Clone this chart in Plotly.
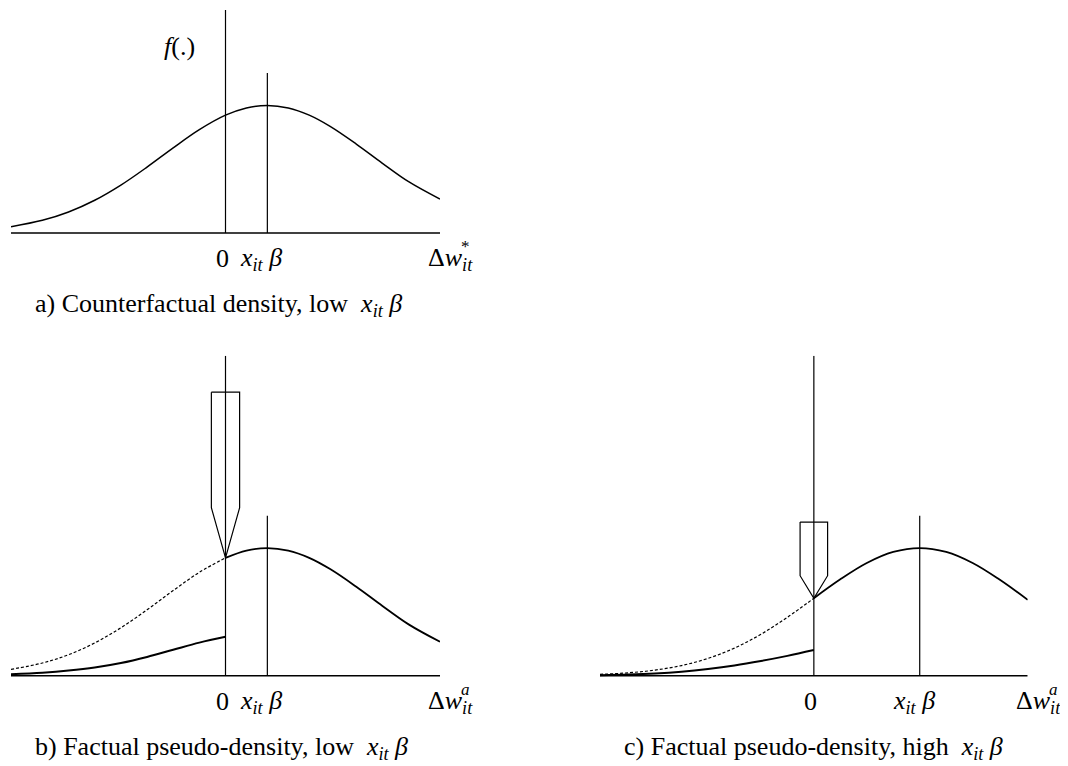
import plotly.graph_objects as go

# ---- data ----
# panels a) and b): low x_it*beta
x_low = [-2.05, -1.75, -1.5, -1.25, -1.0, -0.75, -0.5, -0.25, 0.0,
         0.2, 0.4, 0.6, 0.8, 1.0, 1.25, 1.5, 1.75, 2.05]
density_low = [0.0198, 0.0396, 0.0656, 0.1023, 0.1497, 0.2059, 0.2661, 0.3230, 0.3683,
               0.3910, 0.3989, 0.3910, 0.3683, 0.3332, 0.2780, 0.2179, 0.1604, 0.1060]
x_trunc_low = [-2.05, -1.75, -1.5, -1.25, -1.0, -0.75, -0.5, -0.25, 0.0]
pseudo_low = [0.0048, 0.0095, 0.0161, 0.0256, 0.0397, 0.0587, 0.0812, 0.1034, 0.1215]
xbeta_low = 0.4

# panel c): high x_it*beta
x_high = [-2.02, -1.75, -1.5, -1.25, -1.0, -0.75, -0.5, -0.25, 0.0,
          0.25, 0.5, 0.75, 1.0, 1.25, 1.5, 1.75, 2.02]
density_high = [0.0042, 0.0091, 0.0175, 0.0317, 0.0540, 0.0863, 0.1295, 0.1826, 0.2420,
                0.3011, 0.3521, 0.3867, 0.3989, 0.3867, 0.3521, 0.3011, 0.2371]
x_trunc_high = [-2.02, -1.75, -1.5, -1.25, -1.0, -0.75, -0.5, -0.25, 0.0]
pseudo_high = [0.0015, 0.0035, 0.0068, 0.0125, 0.0210, 0.0320, 0.0460, 0.0620, 0.0800]
xbeta_high = 1.0

FONT = "Liberation Serif, Times New Roman, serif"
SIZE = 26
XB = "<i>x</i><sub><i>it</i></sub> <i>β</i>"
BLACK = "black"

# the page body has an 8px margin, so the figure is drawn 8px in from the corner
PAD = 8
W, H = 1068 - PAD, 766 - PAD

fig = go.Figure()


def px_x(a, b):
    return [(a - PAD) / W, (b - PAD) / W]


def px_y(bottom, top):
    return [1 - (bottom - PAD) / H, 1 - (top - PAD) / H]


def line(xs, ys, ax, width=1.5, dash="solid", shape="linear"):
    fig.add_trace(go.Scatter(
        x=xs, y=ys, mode="lines", xaxis="x" + ax, yaxis="y" + ax,
        line=dict(color=BLACK, width=width, dash=dash, shape=shape),
        hoverinfo="skip", showlegend=False
    ))


def text(ax, x, y, s, size=SIZE, xanchor="center", xshift=0, yshift=0):
    fig.add_annotation(
        x=x, y=y, xref="x" + ax, yref="y" + ax, text=s, showarrow=False,
        xanchor=xanchor, yanchor="middle", xshift=xshift, yshift=yshift,
        font=dict(family=FONT, size=size, color=BLACK)
    )


def panel(ax, xs, dens, xt, pseudo, xbeta, zero_top, star, caption, arrow=None):
    """One density sketch: axis, vertical lines, curve(s), labels."""
    line([xs[0], xs[-1]], [0, 0], ax, width=1.6)
    line([0, 0], [0, zero_top], ax, width=1.2)
    line([xbeta, xbeta], [0, 0.5], ax, width=1.2)
    i0 = xs.index(0.0)
    if pseudo is None:
        line(xs, dens, ax, shape="spline")
    else:
        line(xs[:i0 + 1], dens[:i0 + 1], ax, width=1.2, dash="3px,2px", shape="spline")
        line(xs[i0:], dens[i0:], ax, width=1.8, shape="spline")
        line(xt, pseudo, ax, width=2, shape="spline")
    if arrow is not None:
        half, top, bot = arrow
        tip = dens[i0]
        line([-half, half, half, 0, -half, -half], [top, top, bot, tip, bot, top], ax, width=1.2)
    # labels under the axis
    text(ax, 0, -0.081, "0", xshift=-3)
    text(ax, xbeta, -0.081, XB, xshift=-6)
    text(ax, xs[-1], -0.081, "Δ<i>w</i><sub><i>it</i></sub>", xanchor="left", xshift=-14)
    text(ax, xs[-1], -0.081, star, size=17, xanchor="left", xshift=19, yshift=12)
    text(ax, xs[0], -0.225, caption, xanchor="left", xshift=22)


panel("", x_low, density_low, None, None, xbeta_low, 0.703, "*",
      "a) Counterfactual density, low  " + XB)
text("", -0.44, 0.584, "<i>f</i>(.)")

panel("2", x_low, density_low, x_trunc_low, pseudo_low, xbeta_low, 1.0, "<i>a</i>",
      "b) Factual pseudo-density, low  " + XB, arrow=(0.135, 0.886, 0.525))
panel("3", x_high, density_high, x_trunc_high, pseudo_high, xbeta_high, 1.0, "<i>a</i>",
      "c) Factual pseudo-density, high  " + XB, arrow=(0.13, 0.48, 0.3125))

hidden = dict(visible=False, fixedrange=True)
fig.update_layout(
    width=W, height=H,
    margin=dict(l=0, r=0, t=0, b=0),
    paper_bgcolor="white", plot_bgcolor="white",
    showlegend=False,
    xaxis=dict(domain=px_x(11, 440), range=[-2.05, 2.05], **hidden),
    yaxis=dict(domain=px_y(313, 10), range=[-0.25, 0.697], **hidden),
    xaxis2=dict(domain=px_x(11, 440), range=[-2.05, 2.05], anchor="y2", **hidden),
    yaxis2=dict(domain=px_y(755.7, 355.7), range=[-0.25, 1.0], anchor="x2", **hidden),
    xaxis3=dict(domain=px_x(600, 1027.7), range=[-2.02, 2.02], anchor="y3", **hidden),
    yaxis3=dict(domain=px_y(755.7, 355.7), range=[-0.25, 1.0], anchor="x3", **hidden),
)

fig.write_html("out.html")
